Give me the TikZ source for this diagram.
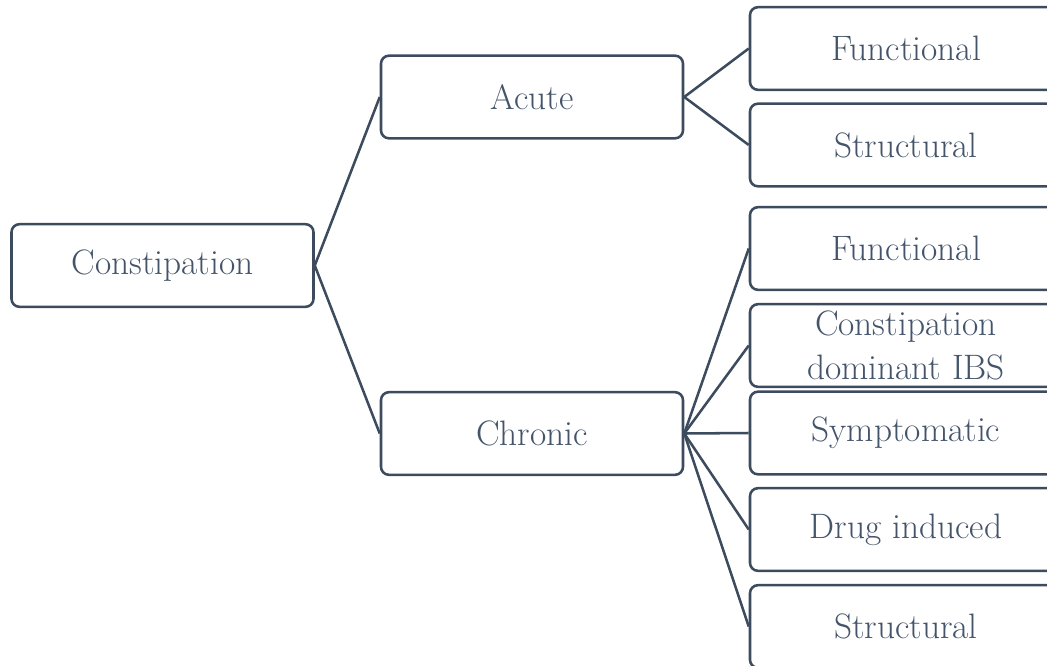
\documentclass[tikz,border=0pt]{standalone}
\usepackage{fontspec}
\definecolor{txt}{HTML}{44546A}
\definecolor{ln}{HTML}{3D4B5E}
\begin{document}
\begin{tikzpicture}[x=0.75pt,y=-0.75pt,
  box/.style={draw=ln,line width=1.9pt,rounded corners=6pt,fill=white,
    minimum width=226.5pt,minimum height=62pt,inner sep=0pt,align=center,
    text=txt,font=\fontsize{26.5}{33}\selectfont},
  rbox/.style={box,minimum width=234pt},
  conn/.style={draw=ln,line width=1.9pt}]
\useasboundingbox (0,0) rectangle (1047,665);
\node[box] (root) at (162.5,265.5) {Constipation};
\node[box] (acute) at (532,97) {Acute};
\node[box] (chronic) at (532,433.5) {Chronic};
\node[rbox] (af) at (906,48.5) {Functional};
\node[rbox] (as) at (906,145) {Structural};
\node[rbox] (cf) at (906,248.5) {Functional};
\node[rbox] (cibs) at (906,345.5) {Constipation\\dominant IBS};
\node[rbox] (cs) at (906,433) {Symptomatic};
\node[rbox] (cd) at (906,529.5) {Drug induced};
\node[rbox] (cst) at (906,626.5) {Structural};
\draw[conn] (root.east) -- (acute.west);
\draw[conn] (root.east) -- (chronic.west);
\draw[conn] (acute.east) -- (af.west);
\draw[conn] (acute.east) -- (as.west);
\foreach \n in {cf,cibs,cs,cd,cst}
  \draw[conn] (chronic.east) -- (\n.west);
\end{tikzpicture}
\end{document}
